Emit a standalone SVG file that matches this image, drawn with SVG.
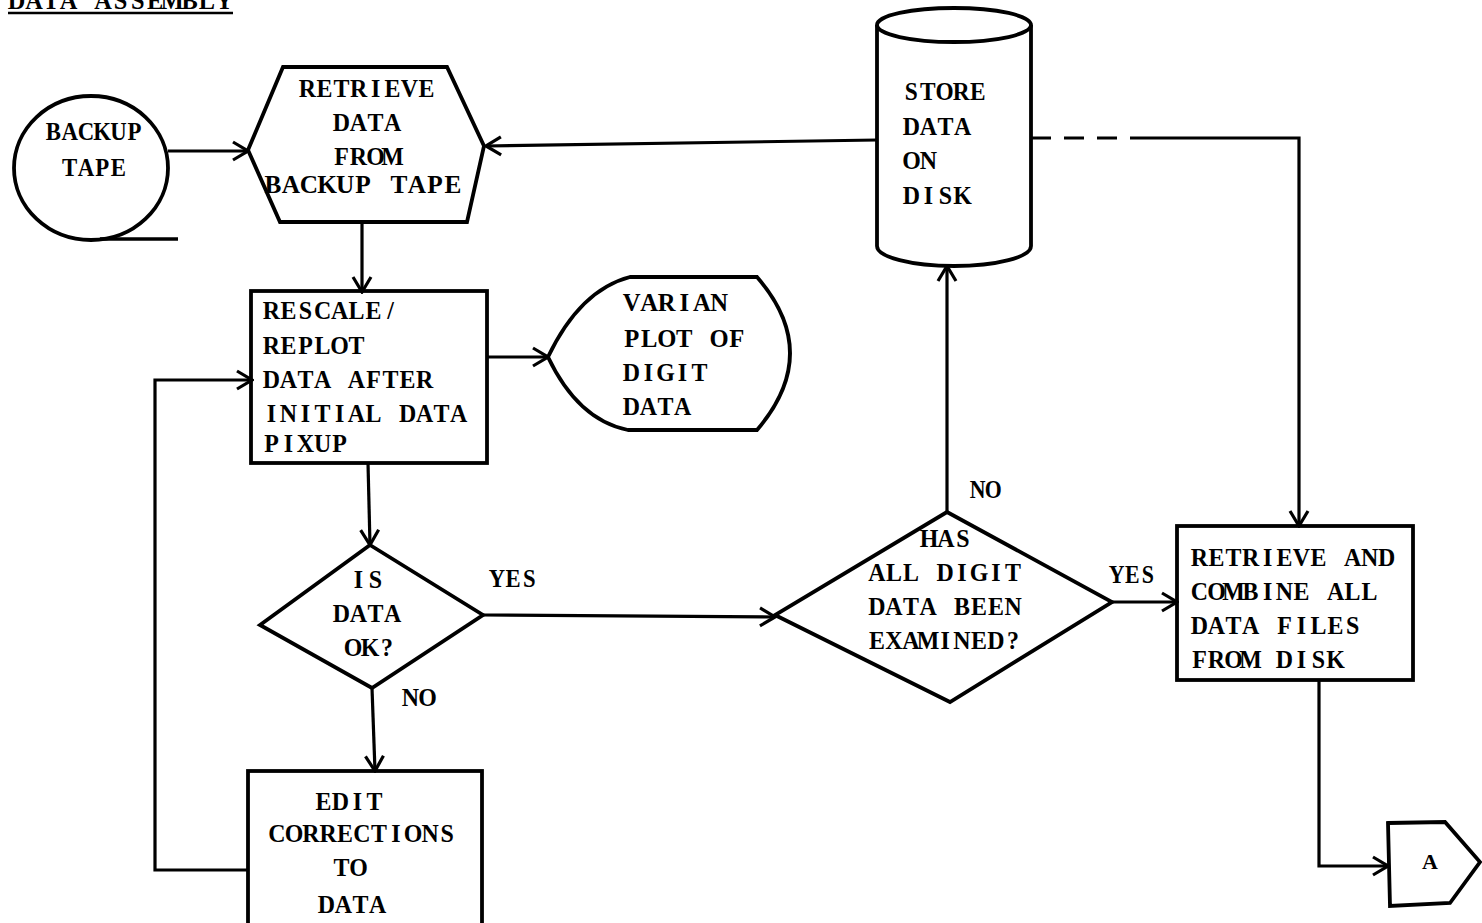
<svg xmlns="http://www.w3.org/2000/svg" width="1482" height="923" viewBox="0 0 1482 923">
<style>
.s{fill:none;stroke:#000;stroke-width:3.8;stroke-linejoin:miter}
.c{fill:none;stroke:#000;stroke-width:3.2}
.t{font-family:"Liberation Serif","Times New Roman",serif;font-weight:bold;font-size:26px;fill:#000;text-anchor:middle}
</style>
<defs>
<marker id="arr" viewBox="-17 -11 19 22" refX="0" refY="0" markerWidth="19" markerHeight="22" markerUnits="userSpaceOnUse" orient="auto">
<path d="M-15,-9 L0,0 L-15,9" fill="none" stroke="#000" stroke-width="3.2"/>
</marker>
</defs>
<rect width="1482" height="923" fill="#fff"/>

<g id="title">
<text class="t" transform="translate(8 0) scale(0.936 1)" x="9.2 27.7 46.2 64.7 83.2 101.6 120.1 138.6 157.1 175.6 194.1 212.6 231" y="9">DATA ASSEMBLY</text>
<line x1="8" y1="13" x2="233" y2="13" stroke="#000" stroke-width="2.5"/>
</g>

<g id="connectors">
<path class="c" d="M168,151 L248,151" marker-end="url(#arr)"/>
<path class="c" d="M877,140 L486,146" marker-end="url(#arr)"/>
<path class="c" d="M362,222 L362,292" marker-end="url(#arr)"/>
<path class="c" d="M487,357 L548,357" marker-end="url(#arr)"/>
<path class="c" d="M368,463 L370,545" marker-end="url(#arr)"/>
<path class="c" d="M483,615 L775,617" marker-end="url(#arr)"/>
<path class="c" d="M372,688 L375,771" marker-end="url(#arr)"/>
<path class="c" d="M248,870 L155,870 L155,380 L252,380" marker-end="url(#arr)"/>
<path class="c" d="M947,512 L947,266" marker-end="url(#arr)"/>
<path class="c" d="M1112,602 L1177,602" marker-end="url(#arr)"/>
<path class="c" d="M1031,138 L1150,138" stroke-dasharray="20 13"/>
<path class="c" d="M1150,138 L1299,138 L1299,526" marker-end="url(#arr)"/>
<path class="c" d="M1319,680 L1319,866 L1388,866" marker-end="url(#arr)"/>
<text class="t" transform="translate(489 0) scale(0.87 1)" x="9.2 27.7 46.2" y="587">YES</text>
<text class="t" transform="translate(402 0) scale(0.92 1)" x="9.2 27.7" y="706">NO</text>
<text class="t" transform="translate(970 0) scale(0.84 1)" x="9.2 27.7" y="498">NO</text>
<text class="t" transform="translate(1109 0) scale(0.84 1)" x="9.2 27.7 46.2" y="583">YES</text>
</g>

<g id="backup-tape">
<ellipse class="s" cx="91" cy="168" rx="77" ry="72"/>
<line x1="100" y1="239" x2="178" y2="239" stroke="#000" stroke-width="3.5"/>
<text class="t" transform="translate(45.4 0) scale(0.877 1)" x="9.2 27.7 46.2 64.7 83.2 101.6" y="140">BACKUP</text>
<text class="t" transform="translate(61.6 0) scale(0.877 1)" x="9.2 27.7 46.2 64.7" y="176">TAPE</text>
</g>

<g id="retrieve-backup">
<polygon class="s" points="283,67 447,67 484,146 467,222 280,222 248,150"/>
<text class="t" transform="translate(299 0) scale(0.92 1)" x="9.2 27.7 46.2 64.7 83.2 101.6 120.1 138.6" y="97">RETRIEVE</text>
<text class="t" transform="translate(333 0) scale(0.92 1)" x="9.2 27.7 46.2 64.7" y="131">DATA</text>
<text class="t" transform="translate(333 0) scale(0.92 1)" x="9.2 27.7 46.2 64.7" y="165">FROM</text>
<text class="t" transform="translate(264 0) scale(0.974 1)" x="9.2 27.7 46.2 64.7 83.2 101.6 120.1 138.6 157.1 175.6 194.1" y="193">BACKUP TAPE</text>
</g>

<g id="store-disk">
<path class="s" d="M877,25 L877,246 A77,20 0 0 0 1031,246 L1031,25"/>
<path class="s" d="M877,25 A77,17 0 0 1 1031,25 A77,17 0 0 1 877,25 Z"/>
<text class="t" transform="translate(903 0) scale(0.898 1)" x="9.2 27.7 46.2 64.7 83.2" y="100">STORE</text>
<text class="t" transform="translate(903 0) scale(0.92 1)" x="9.2 27.7 46.2 64.7" y="135">DATA</text>
<text class="t" transform="translate(903 0) scale(0.92 1)" x="9.2 27.7" y="169">ON</text>
<text class="t" transform="translate(903 0) scale(0.92 1)" x="9.2 27.7 46.2 64.7" y="204">DISK</text>
</g>

<g id="rescale">
<rect class="s" x="251" y="291" width="236" height="172"/>
<text class="t" transform="translate(263 0) scale(0.92 1)" x="9.2 27.7 46.2 64.7 83.2 101.6 120.1 138.6" y="319">RESCALE/</text>
<text class="t" transform="translate(263 0) scale(0.92 1)" x="9.2 27.7 46.2 64.7 83.2 101.6" y="354">REPLOT</text>
<text class="t" transform="translate(263 0) scale(0.92 1)" x="9.2 27.7 46.2 64.7 83.2 101.6 120.1 138.6 157.1 175.6" y="388">DATA AFTER</text>
<text class="t" transform="translate(263 0) scale(0.92 1)" x="9.2 27.7 46.2 64.7 83.2 101.6 120.1 138.6 157.1 175.6 194.1 212.6" y="422">INITIAL DATA</text>
<text class="t" transform="translate(263 0) scale(0.92 1)" x="9.2 27.7 46.2 64.7 83.2" y="452">PIXUP</text>
</g>

<g id="varian-plot">
<path class="s" d="M548,357 Q580,290 630,277 L757,277 Q823,353 757,430 L628,430 Q578,420 548,357 Z"/>
<text class="t" transform="translate(623 0) scale(0.947 1)" x="9.2 27.7 46.2 64.7 83.2 101.6" y="311">VARIAN</text>
<text class="t" transform="translate(623 0) scale(0.947 1)" x="9.2 27.7 46.2 64.7 83.2 101.6 120.1" y="347">PLOT OF</text>
<text class="t" transform="translate(623 0) scale(0.92 1)" x="9.2 27.7 46.2 64.7 83.2" y="381">DIGIT</text>
<text class="t" transform="translate(623 0) scale(0.92 1)" x="9.2 27.7 46.2 64.7" y="415">DATA</text>
</g>

<g id="is-data-ok">
<polygon class="s" points="370,545 483,615 372,688 260,625"/>
<text class="t" transform="translate(350 0) scale(0.92 1)" x="9.2 27.7" y="588">IS</text>
<text class="t" transform="translate(333 0) scale(0.92 1)" x="9.2 27.7 46.2 64.7" y="622">DATA</text>
<text class="t" transform="translate(344.5 0) scale(0.92 1)" x="9.2 27.7 46.2" y="656">OK?</text>
</g>

<g id="all-examined">
<polygon class="s" points="947,512 1112,602 950,702 775,615"/>
<text class="t" transform="translate(920.5 0) scale(0.92 1)" x="9.2 27.7 46.2" y="547">HAS</text>
<text class="t" transform="translate(868.5 0) scale(0.92 1)" x="9.2 27.7 46.2 64.7 83.2 101.6 120.1 138.6 157.1" y="581">ALL DIGIT</text>
<text class="t" transform="translate(868.5 0) scale(0.92 1)" x="9.2 27.7 46.2 64.7 83.2 101.6 120.1 138.6 157.1" y="615">DATA BEEN</text>
<text class="t" transform="translate(868.5 0) scale(0.92 1)" x="9.2 27.7 46.2 64.7 83.2 101.6 120.1 138.6 157.1" y="649">EXAMINED?</text>
</g>

<g id="edit-corrections">
<rect class="s" x="248" y="771" width="234" height="200"/>
<text class="t" transform="translate(315 0) scale(0.92 1)" x="9.2 27.7 46.2 64.7" y="810">EDIT</text>
<text class="t" transform="translate(268.5 0) scale(0.92 1)" x="9.2 27.7 46.2 64.7 83.2 101.6 120.1 138.6 157.1 175.6 194.1" y="842">CORRECTIONS</text>
<text class="t" transform="translate(333 0) scale(0.92 1)" x="9.2 27.7" y="876">TO</text>
<text class="t" transform="translate(318 0) scale(0.92 1)" x="9.2 27.7 46.2 64.7" y="913">DATA</text>
</g>

<g id="combine-files">
<rect class="s" x="1177" y="526" width="236" height="154"/>
<text class="t" transform="translate(1191 0) scale(0.92 1)" x="9.2 27.7 46.2 64.7 83.2 101.6 120.1 138.6 157.1 175.6 194.1 212.6" y="566">RETRIEVE AND</text>
<text class="t" transform="translate(1191 0) scale(0.92 1)" x="9.2 27.7 46.2 64.7 83.2 101.6 120.1 138.6 157.1 175.6 194.1" y="600">COMBINE ALL</text>
<text class="t" transform="translate(1191 0) scale(0.92 1)" x="9.2 27.7 46.2 64.7 83.2 101.6 120.1 138.6 157.1 175.6" y="634">DATA FILES</text>
<text class="t" transform="translate(1191 0) scale(0.92 1)" x="9.2 27.7 46.2 64.7 83.2 101.6 120.1 138.6 157.1" y="668">FROM DISK</text>
</g>

<g id="connector-a">
<polygon class="s" points="1388,823 1445,822 1480,862 1450,903 1390,906"/>
<text class="t" x="1430" y="869" style="font-size:22px">A</text>
</g>
</svg>
